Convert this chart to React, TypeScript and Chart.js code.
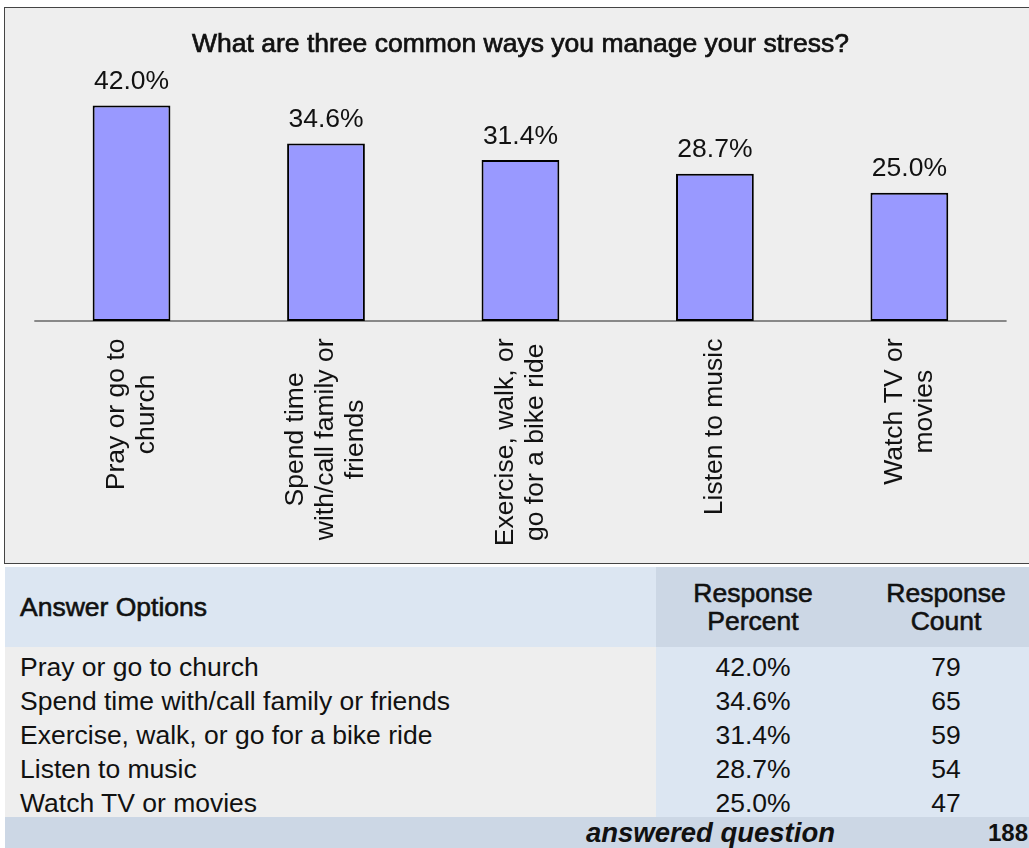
import React, { useEffect, useRef } from "react";
import { Chart, registerables } from "chart.js";

Chart.register(...registerables);

const chartTitle = "What are three common ways you manage your stress?";
const categories = [
  "Pray or go to church",
  "Spend time with/call family or friends",
  "Exercise, walk, or go for a bike ride",
  "Listen to music",
  "Watch TV or movies",
];
const axisLabelLines = [
  ["Pray or go to", "church"],
  ["Spend time", "with/call family or", "friends"],
  ["Exercise, walk, or", "go for a bike ride"],
  ["Listen to music"],
  ["Watch TV or", "movies"],
];
const responsePercent = [42.0, 34.6, 31.4, 28.7, 25.0];
const responseCount = [79, 65, 59, 54, 47];
const answeredQuestion = 188;
const yMax = 50;

const FONT = "'Liberation Sans', Arial, Helvetica, sans-serif";
const TEXT = "#111111";
const LIGHT_BLUE = "#dce6f2";
const DARK_BLUE = "#ccd7e5";
const GRAY_BG = "#eeeeee";

const CANVAS_W = 1035;
const CANVAS_H = 555;

const annotatePlugin = {
  id: "annotate",
  beforeDatasetsDraw(chart: any) {
    const { ctx, chartArea } = chart;
    const ys = chart.scales.y;
    const yb = ys.getPixelForValue(0);
    ctx.save();
    ctx.strokeStyle = "#666666";
    ctx.lineWidth = 1.5;
    ctx.beginPath();
    ctx.moveTo(chartArea.left, yb);
    ctx.lineTo(chartArea.right, yb);
    ctx.stroke();
    ctx.restore();
  },
  afterDatasetsDraw(chart: any) {
    const { ctx, chartArea } = chart;
    const xs = chart.scales.x;
    const meta = chart.getDatasetMeta(0);
    ctx.save();
    ctx.fillStyle = TEXT;
    ctx.strokeStyle = TEXT;

    // title (regular face, slightly emboldened)
    ctx.font = `26.5px ${FONT}`;
    ctx.textAlign = "center";
    ctx.textBaseline = "alphabetic";
    const tx = (chartArea.left + chartArea.right) / 2;
    ctx.fillText(chartTitle, tx, 52.3 - 8);
    ctx.lineWidth = 0.7;
    ctx.strokeText(chartTitle, tx, 52.3 - 8);

    // value labels
    ctx.font = `26.5px ${FONT}`;
    meta.data.forEach((el: any, i: number) => {
      ctx.fillText(`${responsePercent[i].toFixed(1)}%`, el.x, el.y - 16.4);
    });

    // rotated category labels
    const lineH = 30;
    axisLabelLines.forEach((lines, i) => {
      const x = xs.getPixelForValue(i);
      const maxW = Math.max(...lines.map((l) => ctx.measureText(l).width));
      const anchorY = chartArea.bottom + 17.5;
      ctx.save();
      ctx.translate(x, anchorY + maxW / 2);
      ctx.rotate(-Math.PI / 2);
      ctx.textAlign = "center";
      ctx.textBaseline = "middle";
      lines.forEach((line, j) => {
        ctx.fillText(line, 0, (j - (lines.length - 1) / 2) * lineH);
      });
      ctx.restore();
    });
    ctx.restore();
  },
};

function BarChart() {
  const ref = useRef<HTMLCanvasElement | null>(null);
  useEffect(() => {
    if (!ref.current) return;
    const chart = new Chart(ref.current, {
      type: "bar",
      data: {
        labels: categories,
        datasets: [
          {
            data: responsePercent,
            backgroundColor: "#9999ff",
            borderColor: "#000000",
            borderWidth: 2,
            borderSkipped: false,
            barPercentage: 0.4,
            categoryPercentage: 1.0,
          },
        ],
      },
      options: {
        animation: false,
        responsive: false,
        maintainAspectRatio: false,
        devicePixelRatio: 1,
        layout: {
          padding: { left: 29.3, right: CANVAS_W - 1001.6, top: 56.5, bottom: CANVAS_H - 313 },
        },
        scales: {
          x: { display: false },
          y: { display: false, min: 0, max: yMax },
        },
        plugins: {
          legend: { display: false },
          tooltip: { enabled: false },
          title: { display: false },
        },
      },
      plugins: [annotatePlugin],
    });
    return () => chart.destroy();
  }, []);
  return (
    <canvas
      ref={ref}
      width={CANVAS_W}
      height={CANVAS_H}
      style={{ position: "absolute", left: 0, top: 0, width: CANVAS_W, height: CANVAS_H }}
    />
  );
}

export default function App() {
  const cell: React.CSSProperties = { padding: 0, verticalAlign: "middle" };
  const headText: React.CSSProperties = {
    fontSize: 26.5,
    fontWeight: "normal",
    WebkitTextStroke: "0.6px #111111",
  } as React.CSSProperties;
  const dataCell: React.CSSProperties = {
    padding: "7px 0 0 0",
    lineHeight: "27px",
    height: 34,
    boxSizing: "border-box",
    verticalAlign: "top",
    whiteSpace: "nowrap",
  };
  return (
    <div
      style={{
        position: "fixed",
        left: 0,
        top: 0,
        width: 1029,
        height: 848,
        overflow: "hidden",
        background: "#ffffff",
        fontFamily: FONT,
        color: TEXT,
      }}
    >
      <div
        style={{
          position: "absolute",
          left: 4,
          top: 7,
          width: 1040,
          height: 557,
          border: "1px solid #444444",
          boxSizing: "border-box",
          background: GRAY_BG,
        }}
      >
        <BarChart />
      </div>
      <table
        style={{
          position: "absolute",
          left: 5,
          top: 567,
          width: 1037,
          borderCollapse: "collapse",
          borderSpacing: 0,
          tableLayout: "fixed",
          fontFamily: FONT,
          fontSize: 26.5,
          color: TEXT,
        }}
      >
        <colgroup>
          <col style={{ width: 651 }} />
          <col style={{ width: 194 }} />
          <col style={{ width: 192 }} />
        </colgroup>
        <thead>
          <tr style={{ height: 80 }}>
            <th style={{ ...cell, ...headText, background: LIGHT_BLUE, textAlign: "left", paddingLeft: 15 }}>
              Answer Options
            </th>
            <th style={{ ...cell, ...headText, background: DARK_BLUE, textAlign: "center", lineHeight: "28.5px" }}>
              Response
              <br />
              Percent
            </th>
            <th style={{ ...cell, ...headText, background: DARK_BLUE, textAlign: "center", lineHeight: "28.5px" }}>
              Response
              <br />
              Count
            </th>
          </tr>
        </thead>
        <tbody>
          {categories.map((c, i) => (
            <tr key={c}>
              <td style={{ ...dataCell, background: GRAY_BG, textAlign: "left", paddingLeft: 15 }}>{c}</td>
              <td style={{ ...dataCell, background: LIGHT_BLUE, textAlign: "center" }}>
                {responsePercent[i].toFixed(1)}%
              </td>
              <td style={{ ...dataCell, background: LIGHT_BLUE, textAlign: "center" }}>{responseCount[i]}</td>
            </tr>
          ))}
          <tr style={{ height: 32 }}>
            <td
              colSpan={2}
              style={{
                ...cell,
                background: DARK_BLUE,
                textAlign: "right",
                paddingRight: 15,
                fontWeight: "bold",
                fontStyle: "italic",
                fontSize: 27.5,
                lineHeight: "32px",
              }}
            >
              answered question
            </td>
            <td
              style={{
                ...cell,
                background: DARK_BLUE,
                textAlign: "right",
                paddingRight: 14,
                fontWeight: "bold",
                fontSize: 24,
                lineHeight: "32px",
              }}
            >
              {answeredQuestion}
            </td>
          </tr>
        </tbody>
      </table>
    </div>
  );
}
